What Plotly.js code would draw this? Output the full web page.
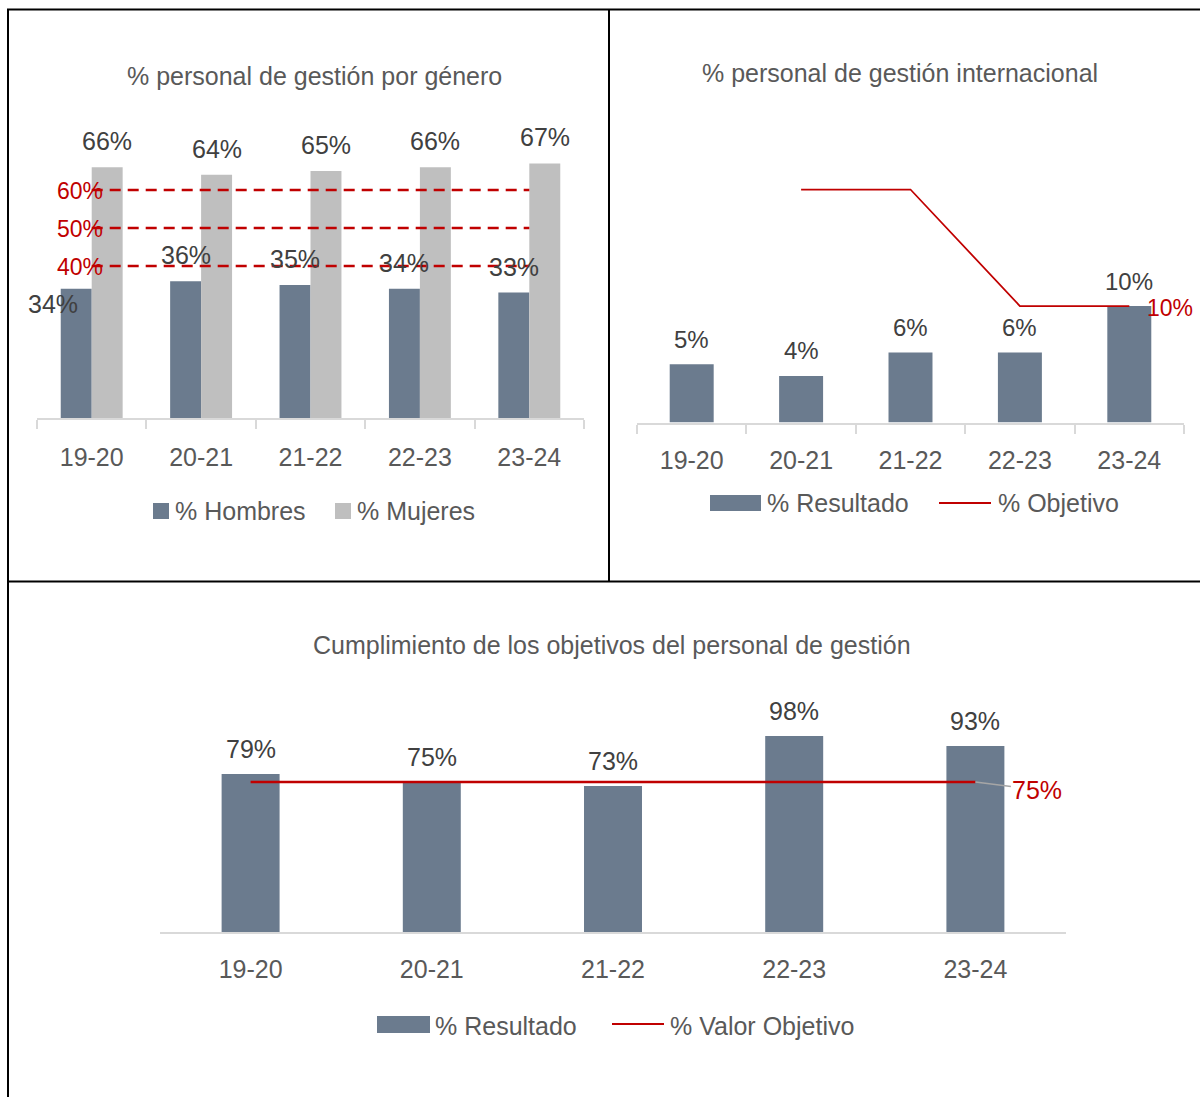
<!DOCTYPE html>
<html><head><meta charset="utf-8">
<script src="https://cdn.plot.ly/plotly-3.0.1.min.js"></script>
<style>html,body{margin:0;padding:0;background:#fff}#chart{width:1200px;height:1097px}</style>
</head><body><div id="chart"></div>
<script>
// ---------- data ----------
const categories = ['19-20','20-21','21-22','22-23','23-24'];
const hombres = [34,36,35,34,33];
const mujeres = [66,64,65,66,67];
const ref60 = [60,60,60,60,60];
const ref50 = [50,50,50,50,50];
const ref40 = [40,40,40,40,40];
const refLabels = ['60%','50%','40%'];
const intlResult = [5,4,6,6,10];
const intlTarget = [null,20,20,10,10];
const cumplResult = [79,75,73,98,93];
const cumplTarget = [75,75,75,75,75];

// ---------- helpers ----------
const W = 1200, H = 1097;
const px = x => x / W;
const py = y => 1 - y / H;
const FONT = '"Liberation Sans", Arial, sans-serif';
const SLATE = '#6B7B8E', LGRAY = '#BFBFBF', RED = '#C00000';
const TXT = '#404040', TXT2 = '#595959', AXL = '#D9D9D9';

const traces = [];
// Panel A
traces.push({type:'bar', x:categories, y:hombres, xaxis:'x', yaxis:'y', width:0.283, offset:-0.283,
  marker:{color:SLATE}, name:'% Hombres', showlegend:false});
traces.push({type:'bar', x:categories, y:mujeres, xaxis:'x', yaxis:'y', width:0.283, offset:0,
  marker:{color:LGRAY}, name:'% Mujeres', showlegend:false});
[ref60, ref50, ref40].forEach(r => traces.push({type:'scatter', mode:'lines', x:categories, y:r,
  xaxis:'x', yaxis:'y', line:{color:RED, width:2.5, dash:'11px,7px'}, showlegend:false}));
// Panel B
traces.push({type:'bar', x:categories, y:intlResult, xaxis:'x2', yaxis:'y2', width:0.402,
  marker:{color:SLATE}, name:'% Resultado', showlegend:false});
traces.push({type:'scatter', mode:'lines', x:categories, y:intlTarget, xaxis:'x2', yaxis:'y2',
  line:{color:RED, width:1.75}, connectgaps:false, name:'% Objetivo', showlegend:false});
// Panel C
traces.push({type:'bar', x:categories, y:cumplResult, xaxis:'x3', yaxis:'y3', width:0.32,
  marker:{color:SLATE}, name:'% Resultado', showlegend:false});
traces.push({type:'scatter', mode:'lines', x:categories, y:cumplTarget, xaxis:'x3', yaxis:'y3',
  line:{color:RED, width:2.5}, name:'% Valor Objetivo', showlegend:false});

const ann = [];
const lab = (o) => Object.assign({showarrow:false, xanchor:'center', yanchor:'middle',
  font:{family:FONT, size:25, color:TXT}}, o);
// titles
ann.push(lab({xref:'paper', yref:'paper', x:px(314), y:py(76), text:'% personal de gestión por género', font:{family:FONT,size:25,color:TXT2}}));
ann.push(lab({xref:'paper', yref:'paper', x:px(900), y:py(73), text:'% personal de gestión internacional', font:{family:FONT,size:25,color:TXT2}}));
ann.push(lab({xref:'paper', yref:'paper', x:px(612), y:py(645), text:'Cumplimiento de los objetivos del personal de gestión', font:{family:FONT,size:25,color:TXT2}}));
// panel A labels
categories.forEach((c,i) => {
  ann.push(lab({xref:'x', yref:'y', x:i, y:mujeres[i], text:mujeres[i]+'%', xshift:15.5, yshift:26}));
  if (i === 0) ann.push(lab({xref:'x', yref:'y', x:i, y:hombres[i], text:hombres[i]+'%', xshift:-38.5, yshift:-15}));
  else ann.push(lab({xref:'x', yref:'y', x:i, y:hombres[i], text:hombres[i]+'%', xshift:-15.5, yshift:26}));
});
[ref60, ref50, ref40].forEach((r,k) => ann.push(lab({xref:'x', yref:'y', x:0, y:r[0], text:refLabels[k],
  xshift:-11.5, yshift:-1, font:{family:FONT,size:23,color:RED}})));
// panel B labels
categories.forEach((c,i) => ann.push(lab({xref:'x2', yref:'y2', x:i, y:intlResult[i], text:intlResult[i]+'%', yshift:25, font:{family:FONT,size:24,color:TXT}})));
ann.push(lab({xref:'x2', yref:'y2', x:4, y:intlTarget[4], text:intlTarget[4]+'%', xanchor:'left', xshift:16, yshift:-2, font:{family:FONT,size:23,color:RED}}));
// panel C labels
categories.forEach((c,i) => ann.push(lab({xref:'x3', yref:'y3', x:i, y:cumplResult[i], text:cumplResult[i]+'%', yshift:25})));
ann.push(lab({xref:'x3', yref:'y3', x:4, y:cumplTarget[4], text:cumplTarget[4]+'%', showarrow:true, arrowhead:0,
  arrowwidth:1.5, arrowcolor:'#A6A6A6', ax:62, ay:8, font:{family:FONT,size:25,color:RED}}));
// legends text
const legTxt = (x,y,t) => ann.push(lab({xref:'paper', yref:'paper', x:px(x), y:py(y), text:t, xanchor:'left', font:{family:FONT,size:25,color:TXT2}}));
legTxt(173,511,'% Hombres'); legTxt(355,511,'% Mujeres');
legTxt(765,503,'% Resultado'); legTxt(996,503,'% Objetivo');
legTxt(433,1026,'% Resultado'); legTxt(668,1026,'% Valor Objetivo');

const shapes = [];
const rect = (x0,y0,x1,y1,c) => shapes.push({type:'rect', xref:'paper', yref:'paper', x0:px(x0), x1:px(x1), y0:py(y0), y1:py(y1), fillcolor:c, line:{width:0}});
const seg = (x0,y0,x1,y1,c,w) => shapes.push({type:'line', xref:'paper', yref:'paper', x0:px(x0), x1:px(x1), y0:py(y0), y1:py(y1), line:{color:c, width:w}});
rect(153,503,169,519,SLATE); rect(335,503,351,519,LGRAY);
rect(710,495,761,511,SLATE); seg(939,503,991,503,RED,2);
rect(377,1016,430,1033,SLATE); seg(612,1024,664,1024,RED,2);
// panel borders
seg(7,9.5,1200,9.5,'#000',2);
seg(8,9,8,1097,'#000',2);
seg(609,9,609,582,'#000',2);
seg(8,581.5,1200,581.5,'#000',2);

const xbase = {type:'category', range:[-0.5,4.5], showline:true, linecolor:AXL, linewidth:2,
  showgrid:false, zeroline:false, tickfont:{family:FONT, size:25, color:TXT2}, fixedrange:true};
const layout = {
  width:W, height:H, margin:{l:0,r:0,t:0,b:0}, paper_bgcolor:'#fff', plot_bgcolor:'rgba(0,0,0,0)',
  showlegend:false, barmode:'overlay', font:{family:FONT},
  xaxis: Object.assign({}, xbase, {domain:[px(37),px(584)], anchor:'y', ticks:'outside', tickson:'boundaries', ticklen:9, tickwidth:2, tickcolor:AXL, ticklabelstandoff:16}),
  yaxis: {domain:[py(418),py(114)], range:[0,80], visible:false, fixedrange:true},
  xaxis2: Object.assign({}, xbase, {domain:[px(637),px(1184)], anchor:'y2', ticks:'outside', tickson:'boundaries', ticklen:9, tickwidth:2, tickcolor:AXL, ticklabelstandoff:14}),
  yaxis2: {domain:[py(422.5),py(131.25)], range:[0,25], visible:false, fixedrange:true},
  xaxis3: Object.assign({}, xbase, {domain:[px(160),px(1066)], anchor:'y3', ticks:'', ticklabelstandoff:14}),
  yaxis3: {domain:[py(932),py(692)], range:[0,120], visible:false, fixedrange:true},
  annotations: ann, shapes: shapes
};
Plotly.newPlot('chart', traces, layout, {staticPlot:true, displayModeBar:false});
</script></body></html>
